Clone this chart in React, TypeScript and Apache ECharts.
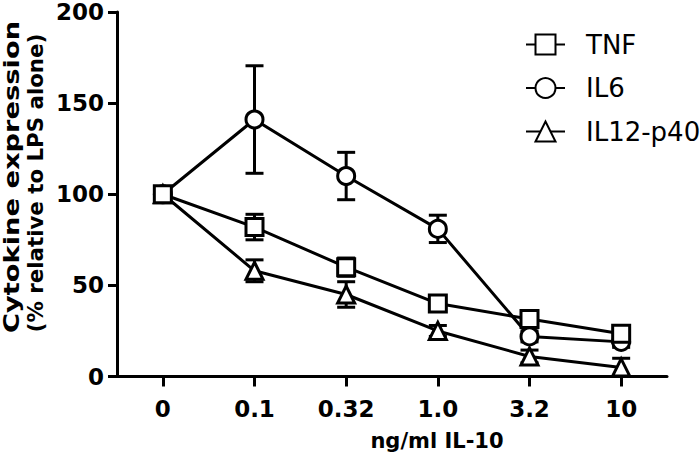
import React, { useEffect, useRef } from "react";
import * as echarts from "echarts";

const categories = ["0", "0.1", "0.32", "1.0", "3.2", "10"];
const tnf = [100, 82, 60, 40, 31.5, 23.5];
const tnfErr = [0, 7, 5, 3, 3, 3];
const il6 = [100, 141, 110, 81, 22, 19];
const il6Err = [0, 29.5, 13, 7.5, 3, 3];
const il12 = [100, 58, 45, 25, 11, 5];
const il12Err = [0, 6, 7, 3, 3.5, 5];
const legendNames = ["TNF", "IL6", "IL12-p40"];
const yMin = 0;
const yMax = 200;
const yInterval = 50;

const FONT = "DejaVu Sans";

function errData(vals: number[], errs: number[]) {
  return vals.map((v, i) => [i, v, errs[i]]);
}

export default function App() {
  const ref = useRef<HTMLDivElement>(null);
  useEffect(() => {
    if (!ref.current) return;
    const chart = echarts.init(ref.current, null, { renderer: "svg" });
    const errSeries = (name: string, vals: number[], errs: number[]) => ({
      type: "custom",
      name: name + "-err",
      data: errData(vals, errs),
      encode: { x: 0, y: 1 },
      z: 1,
      silent: true,
      renderItem: (params: any, api: any) => {
        const x = api.value(0);
        const y = api.value(1);
        const e = api.value(2);
        if (!e) return null;
        const top = api.coord([x, y + e]);
        const bot = api.coord([x, y - e]);
        const hw = 9;
        const style = { stroke: "#000", lineWidth: 3, fill: "none" };
        return {
          type: "group",
          children: [
            { type: "line", shape: { x1: top[0], y1: top[1], x2: bot[0], y2: bot[1] }, style },
            { type: "line", shape: { x1: top[0] - hw, y1: top[1], x2: top[0] + hw, y2: top[1] }, style },
            { type: "line", shape: { x1: bot[0] - hw, y1: bot[1], x2: bot[0] + hw, y2: bot[1] }, style },
          ],
        };
      },
    });
    const lineSeries = (name: string, vals: number[], symbol: string) => ({
      type: "line",
      name,
      data: vals,
      symbol,
      symbolSize: 17,
      showAllSymbol: true,
      z: 3,
      lineStyle: { color: "#000", width: 3 },
      itemStyle: { color: "#fff", borderColor: "#000", borderWidth: 3 },
      emphasis: { disabled: true },
    });
    chart.setOption({
      animation: false,
      backgroundColor: "#fff",
      grid: { left: 117, right: 33, top: 12, bottom: 77.5, containLabel: false },
      legend: {
        show: true,
        orient: "vertical",
        left: 520,
        top: 25.5,
        itemWidth: 39,
        itemHeight: 25,
        itemGap: 15.5,
        data: legendNames,
        formatter: "{s|}{t|{name}}",
        textStyle: {
          fontFamily: FONT,
          fontSize: 26,
          color: "#000",
          lineHeight: 28,
          rich: {
            s: { width: 16, fontSize: 26, lineHeight: 28 },
            t: {
              fontFamily: FONT,
              fontSize: 26,
              color: "#000",
              lineHeight: 28,
            },
          },
        },
      },
      xAxis: {
        type: "category",
        data: categories,
        boundaryGap: true,
        axisLine: { show: true, lineStyle: { color: "#000", width: 3 } },
        axisTick: { show: true, alignWithLabel: true, length: 10, lineStyle: { color: "#000", width: 3 } },
        axisLabel: {
          show: true,
          margin: 21,
          fontFamily: FONT,
          fontWeight: "bold",
          fontSize: 23,
          color: "#000",
        },
        splitLine: { show: false },
      },
      yAxis: {
        type: "value",
        min: yMin,
        max: yMax,
        interval: yInterval,
        axisLine: { show: true, lineStyle: { color: "#000", width: 3 } },
        axisTick: { show: true, length: 9, lineStyle: { color: "#000", width: 3 } },
        axisLabel: {
          show: true,
          margin: 13,
          fontFamily: FONT,
          fontWeight: "bold",
          fontSize: 23,
          color: "#000",
        },
        splitLine: { show: false },
      },
      graphic: [
        {
          type: "text",
          x: 12,
          y: 177,
          rotation: Math.PI / 2,
          scaleX: 1.3,
          style: {
            text: "Cytokine expression",
            font: `bold 21px "${FONT}"`,
            fill: "#000",
            textAlign: "center",
            textVerticalAlign: "middle",
          },
        },
        {
          type: "text",
          x: 35,
          y: 183,
          rotation: Math.PI / 2,
          scaleX: 0.97,
          style: {
            text: "(% relative to LPS alone)",
            font: `bold 22px "${FONT}"`,
            fill: "#000",
            textAlign: "center",
            textVerticalAlign: "middle",
          },
        },
        {
          type: "text",
          x: 437,
          y: 441,
          style: {
            text: "ng/ml IL-10",
            font: `bold 21px "${FONT}"`,
            fill: "#000",
            textAlign: "center",
            textVerticalAlign: "middle",
          },
        },
      ],
      series: [
        errSeries("IL12-p40", il12, il12Err),
        errSeries("IL6", il6, il6Err),
        errSeries("TNF", tnf, tnfErr),
        lineSeries("IL12-p40", il12, "triangle"),
        lineSeries("IL6", il6, "circle"),
        lineSeries("TNF", tnf, "rect"),
      ],
    });
    return () => chart.dispose();
  }, []);
  return (
    <div
      ref={ref}
      style={{ position: "fixed", left: 0, top: 0, width: 700, height: 454, background: "#fff" }}
    />
  );
}
